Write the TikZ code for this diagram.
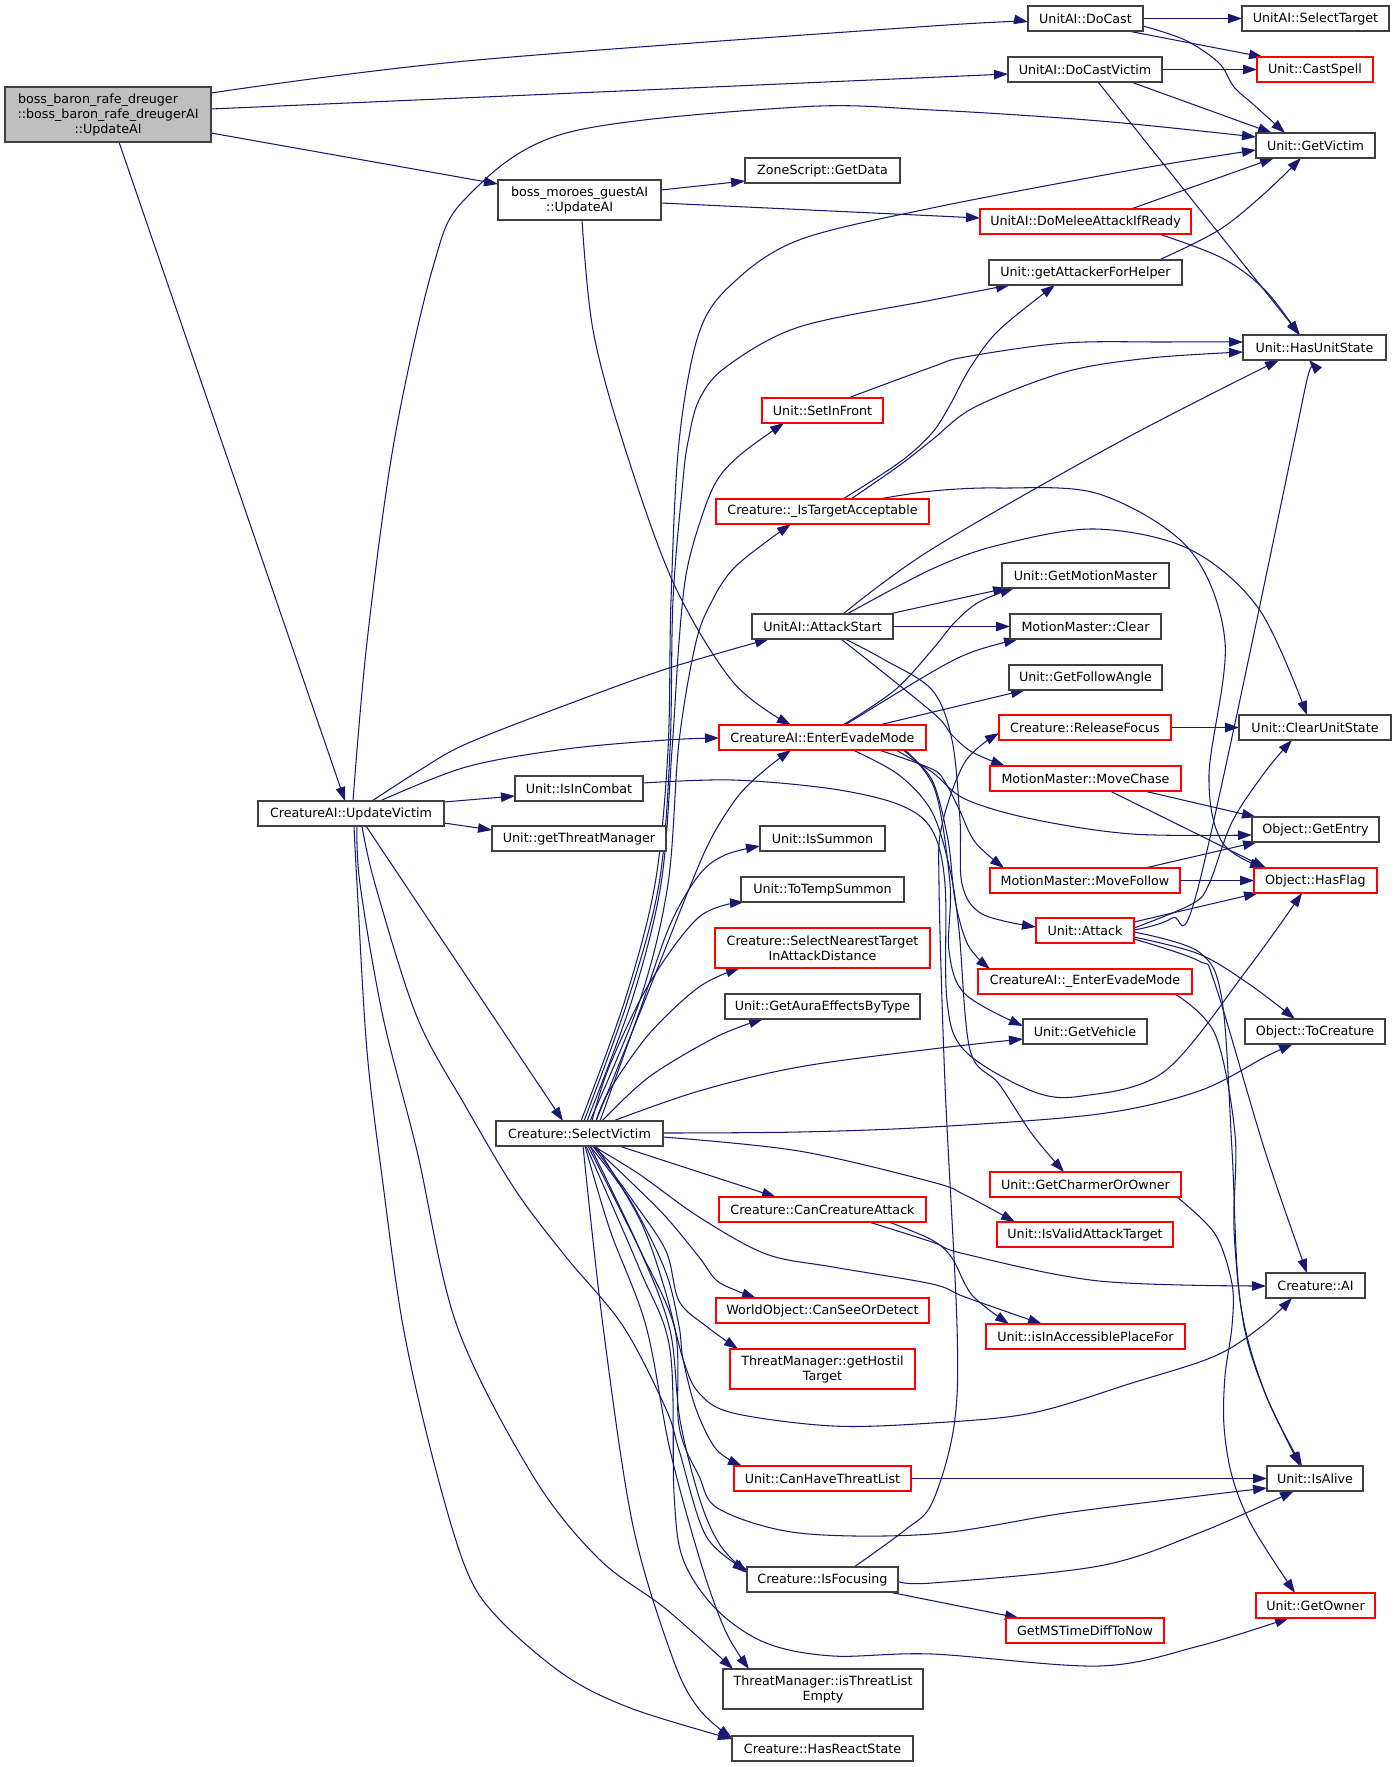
\documentclass[tikz,border=0pt]{standalone}
\usepackage{fontspec}
\setmainfont{DejaVu Sans}
\usetikzlibrary{arrows.meta,calc}
\pgfdeclarelayer{bg}
\pgfsetlayers{bg,main}
\definecolor{edgec}{HTML}{191970}
\definecolor{nodeb}{HTML}{404040}
\definecolor{rootf}{HTML}{BFBFBF}
\definecolor{redb}{HTML}{FF0000}
\newcommand\nd[7]{\node[#1,minimum width=#5pt,minimum height=#6pt] (#2) at (#3,#4) {#7};}
\begin{document}
\begin{tikzpicture}[x=1pt,y=-1pt,
  font=\fontsize{12.7}{15}\selectfont,
  box/.style={draw=nodeb,line width=1.2pt,fill=white,inner sep=0pt,outer sep=0pt,anchor=north west,align=center},
  rbox/.style={box,draw=redb},
  gbox/.style={box,fill=rootf},
  e/.style={draw=edgec,line width=1.05pt,-{Triangle[length=14pt,width=9.5pt]}},
  sm/.style={smooth,tension=0.55}]
\useasboundingbox (0,0) rectangle (1396,1767);
% nodes
\nd{gbox}{R}{5}{87}{206}{55}{boss\_baron\_rafe\_dreuger\hspace*{20pt}\\::boss\_baron\_rafe\_dreugerAI\\::UpdateAI}
\nd{box}{DC}{1028}{6}{115}{25}{UnitAI::DoCast}
\nd{box}{ST}{1242}{6}{147}{25}{UnitAI::SelectTarget}
\nd{box}{DCV}{1008}{57}{154}{25}{UnitAI::DoCastVictim}
\nd{rbox}{CS}{1257}{57}{116}{25}{Unit::CastSpell}
\nd{box}{GV}{1256}{133}{119}{25}{Unit::GetVictim}
\nd{box}{ZG}{745}{158}{155}{25}{ZoneScript::GetData}
\nd{box}{BM}{498}{180}{163}{40}{boss\_moroes\_guestAI\\::UpdateAI}
\nd{rbox}{DM}{980}{209}{211}{25}{UnitAI::DoMeleeAttackIfReady}
\nd{box}{AH}{989}{260}{193}{25}{Unit::getAttackerForHelper}
\nd{box}{HU}{1243}{335}{143}{25}{Unit::HasUnitState}
\nd{rbox}{SF}{762}{398}{121}{25}{Unit::SetInFront}
\nd{rbox}{TA}{716}{499}{213}{25}{Creature::\_IsTargetAcceptable}
\nd{box}{GM}{1002}{563}{167}{25}{Unit::GetMotionMaster}
\nd{box}{AS}{752}{614}{141}{25}{UnitAI::AttackStart}
\nd{box}{MC}{1010}{614}{151}{25}{MotionMaster::Clear}
\nd{box}{FA}{1009}{665}{153}{25}{Unit::GetFollowAngle}
\nd{rbox}{RF}{999}{715}{172}{25}{Creature::ReleaseFocus}
\nd{box}{CU}{1239}{715}{152}{25}{Unit::ClearUnitState}
\nd{rbox}{EE}{719}{725}{207}{25}{CreatureAI::EnterEvadeMode}
\nd{rbox}{MCh}{990}{766}{191}{25}{MotionMaster::MoveChase}
\nd{box}{IC}{515}{776}{128}{25}{Unit::IsInCombat}
\nd{box}{UV}{258}{801}{186}{25}{CreatureAI::UpdateVictim}
\nd{box}{GE}{1252}{817}{127}{25}{Object::GetEntry}
\nd{box}{TM}{492}{826}{174}{25}{Unit::getThreatManager}
\nd{box}{IS}{760}{826}{125}{25}{Unit::IsSummon}
\nd{rbox}{MF}{990}{868}{190}{25}{MotionMaster::MoveFollow}
\nd{rbox}{HF}{1254}{868}{123}{25}{Object::HasFlag}
\nd{box}{TS}{741}{877}{163}{25}{Unit::ToTempSummon}
\nd{rbox}{AT}{1036}{918}{98}{25}{Unit::Attack}
\nd{rbox}{SN}{715}{928}{215}{40}{Creature::SelectNearestTarget\\InAttackDistance}
\nd{rbox}{EEB}{978}{969}{214}{25}{CreatureAI::\_EnterEvadeMode}
\nd{box}{GA}{725}{994}{195}{25}{Unit::GetAuraEffectsByType}
\nd{box}{VH}{1023}{1019}{124}{25}{Unit::GetVehicle}
\nd{box}{TC}{1245}{1019}{140}{25}{Object::ToCreature}
\nd{box}{SV}{496}{1121}{167}{25}{Creature::SelectVictim}
\nd{rbox}{CO}{990}{1172}{191}{25}{Unit::GetCharmerOrOwner}
\nd{rbox}{CA}{719}{1197}{207}{25}{Creature::CanCreatureAttack}
\nd{rbox}{VT}{997}{1222}{176}{25}{Unit::IsValidAttackTarget}
\nd{box}{AI}{1266}{1273}{99}{25}{Creature::AI}
\nd{rbox}{WS}{716}{1298}{213}{25}{WorldObject::CanSeeOrDetect}
\nd{rbox}{AP}{986}{1324}{199}{25}{Unit::isInAccessiblePlaceFor}
\nd{rbox}{HT}{730}{1349}{185}{40}{ThreatManager::getHostil\\Target}
\nd{rbox}{CT}{734}{1466}{177}{25}{Unit::CanHaveThreatList}
\nd{box}{IA}{1267}{1466}{96}{25}{Unit::IsAlive}
\nd{box}{IF}{747}{1567}{151}{25}{Creature::IsFocusing}
\nd{rbox}{GO}{1256}{1593}{119}{25}{Unit::GetOwner}
\nd{rbox}{GT}{1006}{1618}{158}{25}{GetMSTimeDiffToNow}
\nd{box}{TE}{723}{1669}{200}{40}{ThreatManager::isThreatList\\Empty}
\nd{box}{RS}{732}{1736}{181}{25}{Creature::HasReactState}
% edges
\begin{pgfonlayer}{bg}
\fill[white] (0,0) rectangle (1396,1767);
\draw[e] plot[sm] coordinates {($(R.north east)+(0,6)$) (466,61) (932,26) ($(DC.north west)+(0,16)$)};
\draw[e] ($(R.north east)+(0,22)$) -- ($(DCV.north west)+(0,17)$);
\draw[e] ($(R.north east)+(0,46)$) -- ($(BM.north west)+(0,4)$);
\draw[e] ($(R.south west)+(114,0)$) -- ($(UV.north west)+(87,0)$);
\draw[e] ($(BM.north east)+(0,10)$) -- ($(ZG.north west)+(0,23)$);
\draw[e] ($(BM.north east)+(0,23)$) -- ($(DM.north west)+(0,9)$);
\draw[e] plot[sm] coordinates {($(BM.south west)+(84,0)$) (593,330) (623,442) (673,582) (733,682) ($(EE.north west)+(72,0)$)};
\draw[e] ($(DC.north east)+(0,12.5)$) -- ($(ST.north west)+(0,12.5)$);
\draw[e] ($(DC.south west)+(100,0)$) -- ($(CS.north west)+(6,0)$);
\draw[e] plot[sm] coordinates {($(DC.north east)+(0,20)$) (1185,40) (1219,63) (1234,87) (1254,105) ($(GV.north west)+(29,0)$)};
\draw[e] ($(DCV.north east)+(0,12.5)$) -- ($(CS.north west)+(0,12.5)$);
\draw[e] ($(DCV.south west)+(123,0)$) -- ($(GV.north west)+(16,0)$);
\draw[e] ($(DCV.south west)+(90,0)$) -- ($(HU.north west)+(57,0)$);
\draw[e] plot[sm] coordinates {($(UV.north west)+(95,0)$) (367,642) (394,442) (433,267) (466,198) (566,133) (799,107) (932,110) (1100,121) ($(GV.north west)+(0,4)$)};
\draw[e] plot[sm] coordinates {($(SV.north west)+(85,0)$) (625,1000) (655,884) (668,750) (671,600) (679,442) (699,333) (733,283) (799,240) (932,208) (1132,170) ($(GV.north west)+(0,17)$)};
\draw[e] ($(DM.north west)+(151,0)$) -- ($(GV.south west)+(18,0)$);
\draw[e] plot[sm] coordinates {($(DM.south west)+(179,0)$) (1222,258) (1265,290) ($(HU.north west)+(56,0)$)};
\draw[e] plot[sm] coordinates {($(AH.north west)+(170,0)$) (1219,230) (1265,193) ($(GV.south west)+(45,0)$)};
\draw[e] plot[sm] coordinates {($(SV.north west)+(88,0)$) (628,1000) (659,884) (670,750) (673,600) (683,480) (688,442) (699,400) (726,367) (799,327) (932,300) ($(AH.south west)+(21,0)$)};
\draw[e] plot[sm] coordinates {($(SV.north west)+(91,0)$) (632,1000) (661,884) (672,750) (679,642) (686,575) (699,525) (716,482) (740,455) ($(SF.south west)+(22,0)$)};
\draw[e] plot[sm] coordinates {($(SV.north west)+(94,0)$) (640,1000) (668,884) (679,742) (696,642) (713,599) (733,569) (766,542) ($(TA.south west)+(75,0)$)};
\draw[e] plot[sm] coordinates {($(SV.north west)+(100,0)$) (645,1000) (691,884) (713,835) (739,795) (766,769) ($(EE.south west)+(72,0)$)};
\draw[e] plot[sm] coordinates {($(SV.north west)+(104,0)$) (640,1010) (670,925) (699,875) (725,855) ($(IS.north west)+(0,20)$)};
\draw[e] plot[sm] coordinates {($(SV.north west)+(96,0)$) (609,1067) (649,984) (699,917) ($(TS.south west)+(3,0)$)};
\draw[e] plot[sm] coordinates {($(SV.north west)+(100,0)$) (609,1091) (649,1034) (699,987) ($(SN.south west)+(25,0)$)};
\draw[e] plot[sm] coordinates {($(SV.north west)+(106,0)$) (649,1077) (716,1037) ($(GA.south west)+(38,0)$)};
\draw[e] plot[sm] coordinates {($(SV.north west)+(117,0)$) (699,1091) (799,1067) (932,1049) ($(VH.north west)+(0,20)$)};
\draw[e] plot[sm] coordinates {($(SV.north east)+(0,12)$) (799,1132) (932,1127) (1099,1114) (1199,1091) (1265,1057) ($(TC.south west)+(48,0)$)};
\draw[e] plot[sm] coordinates {($(SV.north east)+(0,16)$) (799,1151) (932,1182) (965,1195) ($(VT.north west)+(18,0)$)};
\draw[e] ($(SV.south west)+(123,0)$) -- ($(CA.north west)+(57,0)$);
\draw[e] plot[sm] coordinates {($(SV.south west)+(97,0)$) (639,1174) (699,1217) (766,1254) (833,1267) (932,1284) (965,1297) ($(AP.north west)+(56,0)$)};
\draw[e] plot[sm] coordinates {($(CA.south west)+(170,0)$) (932,1240) (952,1258) (972,1295) ($(AP.north west)+(23,0)$)};
\draw[e] plot[sm] coordinates {($(CA.south west)+(150,0)$) (932,1242) (965,1254) (1099,1281) ($(AI.north west)+(0,13)$)};
\draw[e] plot[sm] coordinates {($(SV.south west)+(97,0)$) (633,1184) (666,1217) (699,1257) (716,1280) (735,1290) ($(WS.north west)+(40,0)$)};
\draw[e] plot[sm] coordinates {($(SV.south west)+(97,0)$) (633,1201) (666,1251) (679,1301) (706,1326) ($(HT.north west)+(8,0)$)};
\draw[e] plot[sm] coordinates {($(SV.south west)+(94,0)$) (630,1200) (665,1270) (679,1326) (683,1359) (696,1409) (716,1449) ($(CT.north west)+(8,0)$)};
\draw[e] plot[sm] coordinates {($(SV.south west)+(100,0)$) (640,1220) (665,1290) (683,1359) (699,1393) (733,1413) (833,1426) (932,1423) (1032,1413) (1132,1383) (1215,1356) (1262,1326) ($(AI.south west)+(26,0)$)};
\draw[e] plot[sm] coordinates {($(SV.south west)+(92,0)$) (640,1250) (675,1330) (679,1426) (699,1476) (719,1509) (799,1533) (932,1534) (1065,1513) (1199,1496) ($(IA.north west)+(0,22)$)};
\draw[e] plot[sm] coordinates {($(SV.south west)+(90,0)$) (640,1270) (670,1350) (674,1493) (683,1559) (716,1609) (766,1643) (833,1656) (932,1654) (1099,1666) (1199,1646) ($(GO.south west)+(33,0)$)};
\draw[e] plot[sm] coordinates {($(SV.south west)+(94,0)$) (640,1250) (670,1330) (680,1420) (700,1500) (720,1545) ($(IF.north west)+(0,6)$)};
\draw[e] plot[sm] coordinates {($(SV.south west)+(89,0)$) (610,1230) (646,1326) (670,1450) (700,1560) (725,1630) ($(TE.north west)+(26,0)$)};
\draw[e] plot[sm] coordinates {($(SV.south west)+(87,0)$) (603,1326) (633,1526) (673,1659) (699,1709) ($(RS.north west)+(0,2)$)};
\draw[e] plot[sm] coordinates {($(UV.south west)+(96,0)$) (357,884) (367,1051) (383,1184) (403,1326) (433,1459) (466,1569) (499,1619) (566,1676) (633,1709) ($(RS.north west)+(0,3)$)};
\draw[e] plot[sm] coordinates {($(UV.south west)+(99,0)$) (360,884) (383,1017) (417,1151) (457,1326) (533,1476) (599,1559) (666,1609) ($(TE.north west)+(10,0)$)};
\draw[e] plot[sm] coordinates {($(UV.south west)+(104,0)$) (375,884) (417,1017) (466,1107) (516,1191) (566,1257) (623,1326) (666,1409) (679,1450) (706,1536) ($(IF.north west)+(0,3)$)};
\draw[e] ($(UV.south west)+(108,0)$) -- ($(SV.north west)+(67,0)$);
\draw[e] plot[sm] coordinates {($(IF.north west)+(107,0)$) (905,1530) (932,1503) (954,1426) (957,1326) (945,1084) (939,884) (942,825) (965,762) ($(RF.north west)+(0,18)$)};
\draw[e] plot[sm] coordinates {($(IF.north east)+(0,14)$) (932,1583) (1099,1566) (1199,1533) ($(IA.south west)+(27,0)$)};
\draw[e] ($(IF.south west)+(142,0)$) -- ($(GT.north west)+(13,0)$);
\draw[e] ($(CT.north east)+(0,12.5)$) -- ($(IA.north west)+(0,12.5)$);
\draw[e] plot[sm] coordinates {($(CO.south west)+(187,0)$) (1215,1234) (1232,1284) (1232,1326) (1225,1376) (1224,1426) (1232,1476) (1252,1526) ($(GO.north west)+(39,0)$)};
\draw[e] plot[sm] coordinates {($(EEB.south west)+(197,0)$) (1215,1034) (1235,1134) (1234,1230) (1244,1326) (1265,1393) ($(IA.north west)+(33,0)$)};
\draw[e] plot[sm] coordinates {($(AT.north east)+(0,14)$) (1199,952) (1222,1000) (1232,1150) (1240,1300) (1265,1393) ($(IA.north west)+(35,0)$)};
\draw[e] plot[sm] coordinates {($(AT.north east)+(0,21)$) (1199,961) (1215,984) (1265,1151) ($(AI.north west)+(41,0)$)};
\draw[e] plot[sm] coordinates {($(AT.north east)+(0,19)$) (1199,954) (1249,984) ($(TC.north west)+(50,0)$)};
\draw[e] ($(AT.north east)+(0,4)$) -- ($(HF.south west)+(4,0)$);
\draw[e] plot[sm] coordinates {($(AT.north east)+(0,10)$) (1192,904) (1209,884) (1232,822) (1265,772) ($(CU.south west)+(53,0)$)};
\draw[e] plot[sm] coordinates {($(AT.north east)+(0,12)$) (1172,918) (1199,884) (1294,442) ($(HU.south west)+(66,0)$)};
\draw[e] ($(MCh.south west)+(154,0)$) -- ($(GE.north west)+(4,0)$);
\draw[e] ($(MCh.south west)+(120,0)$) -- ($(HF.north west)+(12,0)$);
\draw[e] ($(MF.north west)+(155,0)$) -- ($(GE.south west)+(5,0)$);
\draw[e] ($(MF.north east)+(0,12.5)$) -- ($(HF.north west)+(0,12.5)$);
\draw[e] ($(RF.north east)+(0,12.5)$) -- ($(CU.north west)+(0,12.5)$);
\draw[e] plot[sm] coordinates {($(AS.north west)+(91,0)$) (932,549) (1119,442) ($(HU.south west)+(36,0)$)};
\draw[e] plot[sm] coordinates {($(AS.north west)+(95,0)$) (932,569) (999,545) (1095,529) (1189,549) (1259,609) ($(CU.north west)+(68,0)$)};
\draw[e] ($(AS.north west)+(137,0)$) -- ($(GM.south west)+(5,0)$);
\draw[e] ($(AS.north east)+(0,12.5)$) -- ($(MC.north west)+(0,12.5)$);
\draw[e] plot[sm] coordinates {($(AS.south west)+(89,0)$) (932,712) (952,735) (972,752) ($(MCh.north west)+(15,0)$)};
\draw[e] plot[sm] coordinates {($(AS.south west)+(93,0)$) (883,659) (932,690) (952,740) (960,820) (962,884) (982,914) ($(AT.north west)+(0,9)$)};
\draw[e] plot[sm] coordinates {($(EE.north west)+(124,0)$) (895,690) (932,650) (955,622) (979,602) ($(GM.south west)+(12,0)$)};
\draw[e] plot[sm] coordinates {($(EE.north west)+(126,0)$) (932,672) (972,652) ($(MC.south west)+(8,0)$)};
\draw[e] ($(EE.north west)+(160,0)$) -- ($(FA.south west)+(16,0)$);
\draw[e] plot[sm] coordinates {($(EE.south west)+(160,0)$) (932,769) (945,782) (959,809) (975,842) ($(MF.north west)+(14,0)$)};
\draw[e] plot[sm] coordinates {($(EE.south west)+(177,0)$) (932,772) (965,799) (1032,819) (1132,834) ($(GE.north west)+(0,18)$)};
\draw[e] plot[sm] coordinates {($(EE.south west)+(184,0)$) (932,780) (948,840) (955,900) (968,945) ($(EEB.north west)+(12,0)$)};
\draw[e] plot[sm] coordinates {($(EE.south west)+(186,0)$) (935,790) (950,884) (949,951) (965,994) ($(VH.north west)+(0,7)$)};
\draw[e] plot[sm] coordinates {($(EE.south west)+(134,0)$) (899,775) (932,812) (950,870) (959,930) (970,1050) (999,1084) (1032,1134) ($(CO.north west)+(74,0)$)};
\draw[e] plot[sm] coordinates {($(IC.north east)+(0,7)$) (733,780) (833,789) (900,805) (932,830) (945,884) (947,1001) (965,1051) (1032,1091) (1082,1096) (1165,1071) (1249,967) ($(HF.south west)+(48,0)$)};
\draw[e] plot[sm] coordinates {($(TA.north west)+(127,0)$) (900,462) (932,433) (950,405) (970,368) (999,330) ($(AH.south west)+(66,0)$)};
\draw[e] plot[sm] coordinates {($(TA.north west)+(135,0)$) (900,465) (932,440) (975,407) (1065,372) (1150,358) ($(HU.north west)+(0,17)$)};
\draw[e] plot[sm] coordinates {($(TA.north west)+(163,0)$) (932,491) (999,488) (1099,494) (1189,549) (1225,642) (1209,775) (1222,842) ($(HF.north west)+(10,0)$)};
\draw[e] plot[sm] coordinates {($(SF.north west)+(86,0)$) (932,367) (965,357) (1065,343) (1165,342) ($(HU.north west)+(0,7)$)};
\draw[e] plot[sm] coordinates {($(UV.north west)+(114,0)$) (420,770) (466,744) (566,705) (666,669) ($(AS.south west)+(17,0)$)};
\draw[e] plot[sm] coordinates {($(UV.north west)+(122,0)$) (466,767) (566,749) (666,740) ($(EE.north west)+(0,13)$)};
\draw[e] ($(UV.north east)+(0,1)$) -- ($(IC.north west)+(0,20)$);
\draw[e] ($(UV.north east)+(0,22)$) -- ($(TM.north west)+(0,4)$);
\end{pgfonlayer}
\end{tikzpicture}
\end{document}
